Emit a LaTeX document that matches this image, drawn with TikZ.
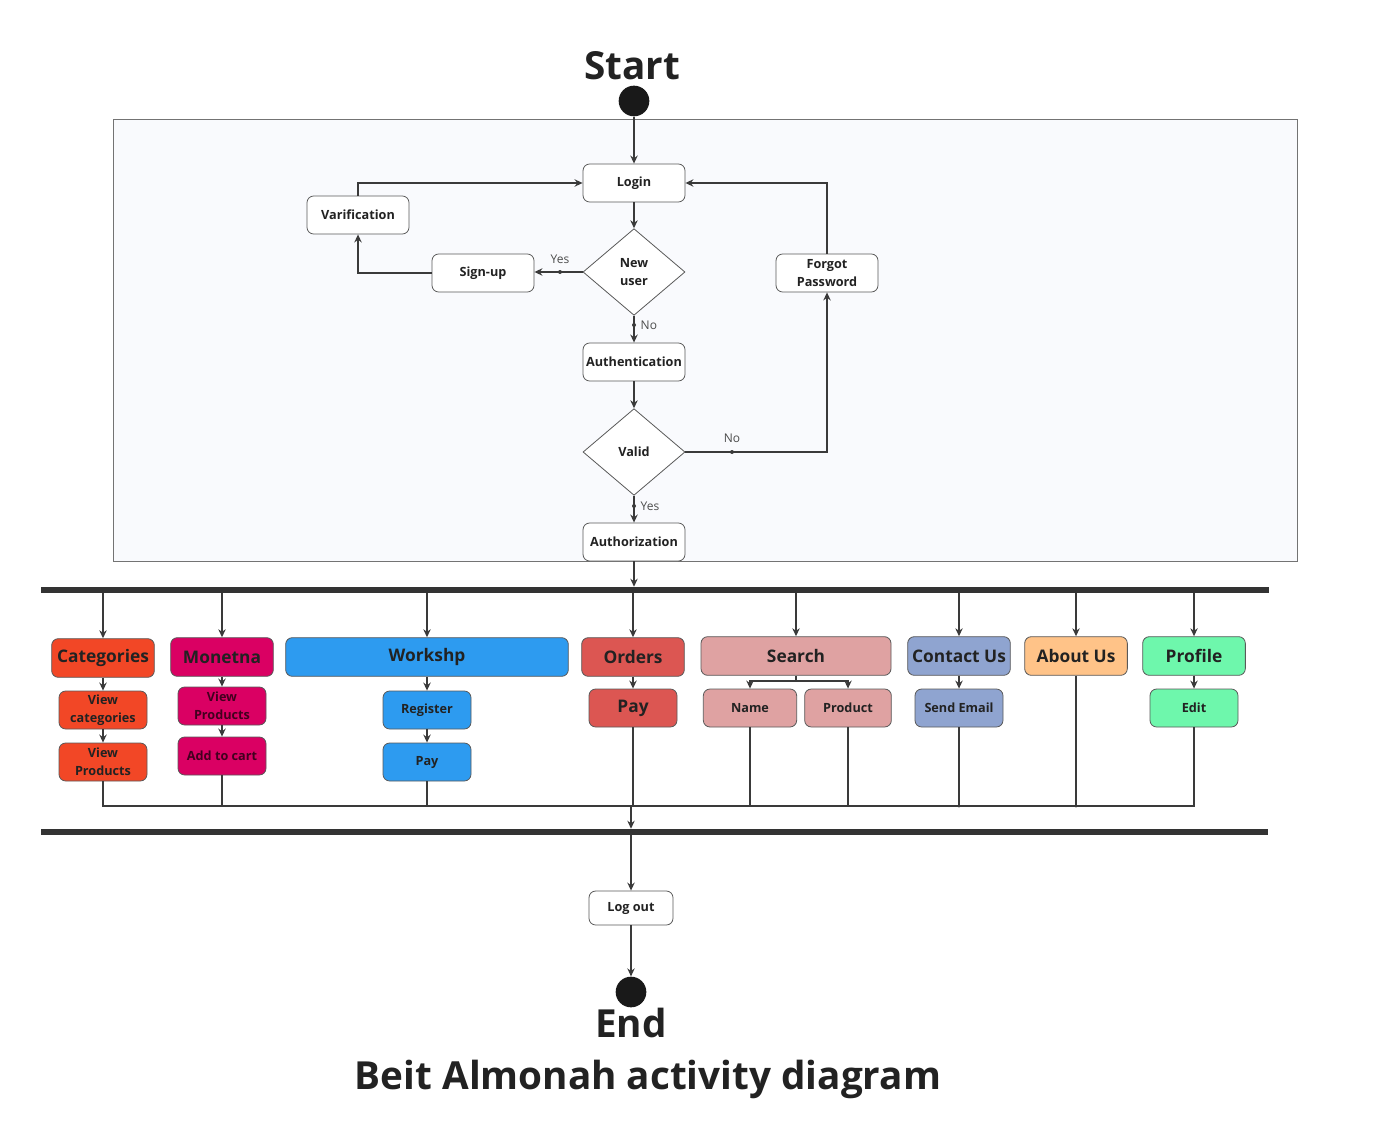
\documentclass[tikz,border=0pt]{standalone}
\usepackage{fontspec}
\setmainfont{Open Sans}
\usetikzlibrary{shapes.geometric,arrows.meta}
\definecolor{catc}{HTML}{F24726}
\definecolor{monc}{HTML}{DA0063}
\definecolor{wsc}{HTML}{2D9BF0}
\definecolor{ordc}{HTML}{DC5652}
\definecolor{srcc}{HTML}{DFA2A2}
\definecolor{conc}{HTML}{8FA4D0}
\definecolor{aboc}{HTML}{FFC388}
\definecolor{proc}{HTML}{6EF7AC}
\definecolor{ln}{HTML}{3A3A3A}
\definecolor{bgc}{HTML}{F9FAFD}
\definecolor{txt}{HTML}{222222}
\begin{document}
\begin{tikzpicture}[x=0.75pt,y=-0.75pt,
 conn/.style={draw=ln, line width=1.5pt, -{Stealth[length=6pt,width=5.5pt]}},
 plain/.style={draw=ln, line width=1.5pt},
 act/.style={draw=black!65, line width=0.6pt, rounded corners=5pt, fill=white, inner sep=1pt,
   minimum width=76.5pt, minimum height=28.5pt, font=\bfseries\fontsize{9.5}{13.5}\selectfont,
   text=txt, align=center},
 dec/.style={diamond, draw=black!65, line width=0.6pt, fill=white, inner sep=0pt, shape aspect=1.2,
   minimum width=76.5pt, minimum height=65pt, font=\bfseries\fontsize{9.5}{13.5}\selectfont,
   text=txt, align=center},
 topbox/.style={act, minimum width=77pt, minimum height=29pt, font=\bfseries\fontsize{13}{15}\selectfont},
 subbox/.style={act, minimum width=66pt, minimum height=28.5pt, font=\bfseries\fontsize{9.5}{13.5}\selectfont},
 lbl/.style={font=\fontsize{9}{10}\selectfont, text=black!70},
 jdot/.style={circle, fill=ln, inner sep=0pt, minimum size=3pt},
 bar/.style={fill=black!80, inner sep=0pt, minimum height=4.5pt},
 term/.style={circle, fill=black!90, inner sep=0pt, minimum size=23pt},
 big/.style={font=\bfseries\fontsize{29}{33}\selectfont, text=txt}
]
\useasboundingbox (0,0) rectangle (1391,1123);

% frame
\node[draw=black!55, line width=0.75pt, fill=bgc, minimum width=888pt, minimum height=330.75pt, inner sep=0pt] (frame) at (705,340.5) {};

% start
\node[big] (sttxt) at (632,66) {Start};
\node[term] (sc) at (634,101) {};

% login flow
\node[act] (login) at (634,183) {Login};
\node[act] (var) at (358,215) {Varification};
\node[act] (signup) at (483,273) {Sign-up};
\node[dec] (nu) at (634,272) {New\\user};
\node[act] (fp) at (827,273) {Forgot\\Password};
\node[act] (auth) at (634,362) {Authentication};
\node[dec] (valid) at (634,452) {Valid};
\node[act] (authz) at (634,542) {Authorization};

\draw[conn] (sc) -- (login);
\draw[conn] (login) -- (nu);
\draw[conn] (nu.west) -- (nu.west -| signup.east);
\draw[conn] (signup.west) -| (var.south);
\draw[conn] (var.north) |- (login.west);
\draw[conn] (nu.south) -- (auth.north);
\draw[conn] (auth) -- (valid);
\draw[conn] (valid.east) -| (fp.south);
\draw[conn] (fp.north) |- (login.east);
\draw[conn] (valid.south) -- (authz.north);

\node[jdot] (d1) at (560,272) {};
\node[lbl] (l1) at (560,259) {Yes};
\node[jdot] (d2) at (634,325) {};
\node[lbl, anchor=west] (l2) at (636,325) {No};
\node[jdot] (d3) at (732,452) {};
\node[lbl] (l3) at (732,438) {No};
\node[jdot] (d4) at (634,506) {};
\node[lbl, anchor=west] (l4) at (636,506) {Yes};

% fork / join bars
\node[bar, minimum width=921pt] (fork) at (655,590) {};
\node[bar, minimum width=920.25pt] (join) at (654.5,832) {};
\draw[conn] (authz.south) -- (authz.south |- fork.north);

% top-level boxes
\node[topbox, fill=catc] (cat) at (103,658) {Categories};
\node[topbox, fill=monc] (mon) at (222,657) {Monetna};
\node[topbox, fill=wsc, minimum width=212pt] (ws) at (427,657) {Workshp};
\node[topbox, fill=ordc] (ord) at (633,657) {Orders};
\node[topbox, fill=srcc, minimum width=142.5pt] (srch) at (796,656) {Search};
\node[topbox, fill=conc] (con) at (959,656) {Contact Us};
\node[topbox, fill=aboc] (abo) at (1076,656) {About Us};
\node[topbox, fill=proc] (pro) at (1194,656) {Profile};

\foreach \n in {cat,mon,ws,ord,srch,con,abo,pro}
  \draw[conn] (\n.north |- fork.south) -- (\n.north);

% sub boxes
\node[subbox, fill=catc] (vcat) at (103,710) {View\\categories};
\node[subbox, fill=catc] (vprod) at (103,762) {View\\Products};
\node[subbox, fill=monc, text=black!70!monc] (mvp) at (222,706) {View\\Products};
\node[subbox, fill=monc, text=black!70!monc] (cart) at (222,756) {Add to cart};
\node[subbox, fill=wsc] (reg) at (427,710) {Register};
\node[subbox, fill=wsc] (wpay) at (427,762) {Pay};
\node[subbox, fill=ordc, font=\bfseries\fontsize{13}{15}\selectfont] (opay) at (633,708) {Pay};
\node[subbox, fill=srcc, minimum width=70pt] (name) at (750,708) {Name};
\node[subbox, fill=srcc, minimum width=65pt] (prod) at (848,708) {Product};
\node[subbox, fill=conc] (mail) at (959,708) {Send Email};
\node[subbox, fill=proc] (edit) at (1194,708) {Edit};

\draw[conn] (cat) -- (vcat);
\draw[conn] (vcat) -- (vprod);
\draw[conn] (mon) -- (mvp);
\draw[conn] (mvp) -- (cart);
\draw[conn] (ws) -- (reg);
\draw[conn] (reg) -- (wpay);
\draw[conn] (ord) -- (opay);
\coordinate (sj) at (796,681);
\draw[plain] (srch.south) -- (sj);
\draw[conn] (sj) -| (name.north);
\draw[conn] (sj) -| (prod.north);
\draw[conn] (con) -- (mail);
\draw[conn] (pro) -- (edit);

% join line
\coordinate (jl) at (103,806);
\coordinate (jm) at (631,806);
\draw[plain] (vprod.south) -- (vprod.south |- jl) -- (jl -| edit.south) -- (edit.south);
\foreach \n in {cart,wpay,opay,name,prod,mail,abo}
  \draw[plain] (\n.south) -- (\n.south |- jl);
\node[jdot, minimum size=2.5pt] (jd1) at (959,806) {};
\node[jdot, minimum size=2.5pt] (jd2) at (1076,806) {};
\draw[conn] (jm) -- (jm |- join.north);

% end
\node[act, minimum width=63pt, minimum height=25.5pt] (logout) at (631,908) {Log out};
\node[term, minimum size=23pt] (ec) at (631,992) {};
\draw[conn] (jm |- join.south) -- (logout.north);
\draw[conn] (logout) -- (ec);
\node[big] (endtxt) at (631,1023) {End};
\node[font=\bfseries\fontsize{29}{33}\selectfont, text=txt] (title) at (648,1079) {Beit Almonah activity diagram};
\end{tikzpicture}
\end{document}
